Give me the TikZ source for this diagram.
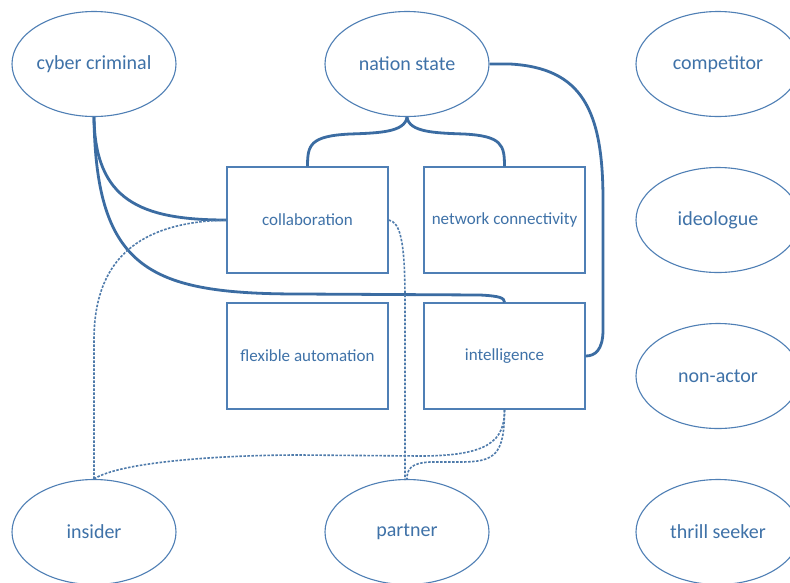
\documentclass[tikz,border=0pt]{standalone}
\usepackage{fontspec}
\setmainfont{Carlito}
\usetikzlibrary{shapes.geometric}
\definecolor{lineblue}{HTML}{4F7FB5}
\definecolor{thickblue}{HTML}{3B6CA2}
\definecolor{textblue}{HTML}{3F72A8}
\begin{document}
\begin{tikzpicture}[x=1pt,y=-1pt,
 actor/.style={ellipse,draw=lineblue,line width=1.1pt,minimum width=164pt,minimum height=105pt,inner sep=0pt,text=textblue,font=\fontsize{20}{24}\selectfont},
 box/.style={rectangle,draw=lineblue,line width=1.3pt,minimum width=161pt,minimum height=106pt,inner sep=0pt,text=textblue,font=\fontsize{17}{20}\selectfont},
 strong/.style={draw=thickblue,line width=2.8pt},
 weak/.style={draw=thickblue!90,line width=1.6pt,dash pattern=on 2.5pt off 1.5pt}]
\useasboundingbox (0,0) rectangle (790,582);
\clip (0,0) rectangle (790,582);
\fill[white] (0,0) rectangle (790,582);
% actors
\node[actor] (cc) at (94,64) {cyber criminal};
\node[actor] (ns) at (407,64) {nation state};
\node[actor] (comp) at (718,64) {competitor};
\node[actor] (ideo) at (718,220) {ideologue};
\node[actor] (non) at (718,376) {non-actor};
\node[actor] (ins) at (94,532) {insider};
\node[actor] (part) at (407,532) {partner};
\node[actor] (thr) at (718,532) {thrill seeker};
% capabilities
\node[box] (col) at (307.5,220) {collaboration};
\node[box] (net) at (504.5,220) {network connectivity};
\node[box] (flex) at (307.5,356) {flexible automation};
\node[box] (intel) at (504.5,356) {intelligence};
% solid connectors
\draw[strong] (cc.south) .. controls (95,200) and (140,220) .. (col.west);
\draw[strong] (cc.south) .. controls (96,270) and (150,294) .. (300,294)
  -- (480,295) .. controls (500,296) and (504.5,298) .. (intel.north);
\draw[strong] (ns.south) .. controls (405,132) and (380,133) .. (350,134)
  .. controls (310,136) and (307.5,145) .. (col.north);
\draw[strong] (ns.south) .. controls (409,132) and (434,133) .. (464,134)
  .. controls (502,136) and (504.5,145) .. (net.north);
\draw[strong] (ns.east) -- (510,64) .. controls (582,68) and (603,110) .. (603,200)
  -- (603,330) .. controls (603,350) and (595,356) .. (intel.east);
% dashed connectors
\draw[weak] (ins.north) -- (94,340) .. controls (94,250) and (150,222) .. (col.west);
\draw[weak] (col.east) .. controls (400,222) and (405,240) .. (405,300) -- (405,480);
\draw[weak] (ins.north) .. controls (120,462) and (220,455) .. (300,455)
  -- (420,456) .. controls (490,456) and (504.5,440) .. (intel.south);
\draw[weak] (intel.south) .. controls (504.5,455) and (495,462) .. (460,462)
  -- (430,462) .. controls (410,463) and (407,470) .. (part.north);
\end{tikzpicture}
\end{document}
